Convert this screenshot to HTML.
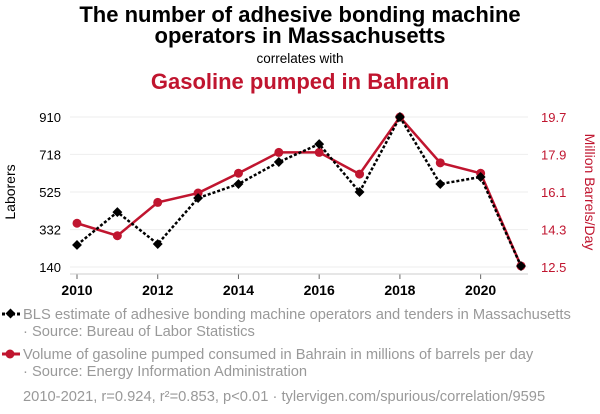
<!DOCTYPE html>
<html><head><meta charset="utf-8">
<style>
body{margin:0;background:#fff;font-family:"Liberation Sans",sans-serif;}
svg{display:block}
</style></head>
<body>
<svg id="chart" width="600" height="414" viewBox="0 0 600 414" xmlns="http://www.w3.org/2000/svg" font-family="Liberation Sans, sans-serif">
<text x="300" y="22" text-anchor="middle" font-size="22" font-weight="bold" fill="#000">The number of adhesive bonding machine</text>
<text x="300" y="43" text-anchor="middle" font-size="22" font-weight="bold" fill="#000">operators in Massachusetts</text>
<text x="300" y="63" text-anchor="middle" font-size="13.5" fill="#000">correlates with</text>
<text x="300" y="89" text-anchor="middle" font-size="22" font-weight="bold" fill="#c0152f">Gasoline pumped in Bahrain</text>
<g id="grid"></g>
<g id="axes"></g>
<line x1="70" y1="274" x2="528" y2="274" stroke="#ccc" stroke-width="1"/>
<g id="series"></g>
<text transform="translate(15,192) rotate(-90)" text-anchor="middle" font-size="14" fill="#000">Laborers</text>
<text transform="translate(585,192) rotate(90)" text-anchor="middle" font-size="14" fill="#c0152f">Million Barrels/Day</text>
<g>
<line x1="2" y1="314" x2="20" y2="314" stroke="#000" stroke-width="3" stroke-dasharray="3,2"/>
<rect x="7" y="310" width="7" height="7" transform="rotate(45 10.5 313.5)" fill="#000"/>
<text x="23" y="319" font-size="14.7" fill="#999">BLS estimate of adhesive bonding machine operators and tenders in Massachusetts</text>
<text x="23" y="336" font-size="14.7" fill="#999">· Source: Bureau of Labor Statistics</text>
</g>
<g>
<line x1="2" y1="354" x2="20" y2="354" stroke="#c0152f" stroke-width="3"/>
<circle cx="10" cy="354" r="4.5" fill="#c0152f"/>
<text x="23" y="359" font-size="14.7" fill="#999">Volume of gasoline pumped consumed in Bahrain in millions of barrels per day</text>
<text x="23" y="376" font-size="14.7" fill="#999">· Source: Energy Information Administration</text>
</g>
<text x="23" y="401" font-size="14.7" fill="#999">2010-2021, r=0.924, r²=0.853, p&lt;0.01 · tylervigen.com/spurious/correlation/9595</text>
</svg>
<script>
const years=[2010,2011,2012,2013,2014,2015,2016,2017,2018,2019,2020,2021];
const laborers=[253,422,258,494,566,679,771,525,910,566,602,145];
const gasoline=[14.6,14.0,15.6,16.05,17.0,18.0,18.0,16.96,19.7,17.5,17.0,12.55];
const leftTicks=[140,332,525,718,910];
const rightTicks=[12.5,14.3,16.1,17.9,19.7];
const xTicks=[2010,2012,2014,2016,2018,2020];
const NS="http://www.w3.org/2000/svg";
const x=v=>77+(v-2010)*(521-77)/11;
const yL=v=>267-(v-140)*150/770;
const yR=v=>267-(v-12.5)*150/7.2;
function mk(tag,attrs,parent,text){const e=document.createElementNS(NS,tag);for(const k in attrs)e.setAttribute(k,attrs[k]);if(text!==undefined)e.textContent=text;document.getElementById(parent).appendChild(e);return e;}
leftTicks.forEach((t,i)=>{
  const g=mk('line',{x1:70,x2:528,y1:yL(t),y2:yL(t),stroke:'#eee','stroke-width':1},'grid');
  
  
  const l=mk('text',{x:61,y:yL(t)+5,'text-anchor':'end','font-size':13,fill:'#000'},'axes',String(t));
  
  
});
rightTicks.forEach(t=>{
  const l=mk('text',{x:541,y:yR(t)+5,'font-size':13,fill:'#c0152f'},'axes',t.toFixed(1));
  
  
});
xTicks.forEach(t=>{
  const tk=mk('line',{x1:x(t),x2:x(t),y1:274,y2:279,stroke:'#666','stroke-width':1},'axes');
  
  
  const l=mk('text',{x:x(t),y:295,'text-anchor':'middle','font-size':14,'font-weight':'bold',fill:'#000'},'axes',String(t));
  
  
});
const rp=mk('polyline',{points:years.map((yr,i)=>x(yr)+','+yR(gasoline[i])).join(' '),fill:'none',stroke:'#c0152f','stroke-width':2.5},'series');


years.forEach((yr,i)=>{
  const c=mk('circle',{cx:x(yr),cy:yR(gasoline[i]),r:4.5,fill:'#c0152f'},'series');
  
  
});
const bp=mk('polyline',{points:years.map((yr,i)=>x(yr)+','+yL(laborers[i])).join(' '),fill:'none',stroke:'#000','stroke-width':2.5,'stroke-dasharray':'3,2'},'series');


years.forEach((yr,i)=>{
  const cx=x(yr),cy=yL(laborers[i]);
  const d=mk('rect',{x:cx-3.5,y:cy-3.5,width:7,height:7,fill:'#000',transform:`rotate(45 ${cx} ${cy})`},'series');
  
  
});
</script>
</body></html>
